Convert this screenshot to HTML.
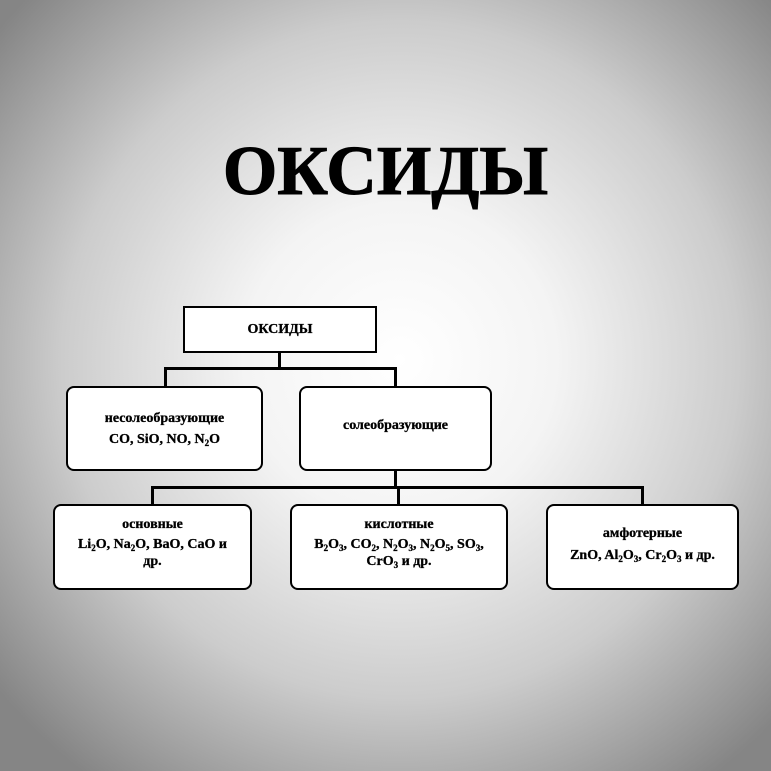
<!DOCTYPE html>
<html><head><meta charset="utf-8"><style>
body{margin:0}
#c{position:relative;width:771px;height:771px;overflow:hidden;font-family:"Liberation Serif",serif;font-weight:bold;color:#000;
background:radial-gradient(ellipse 520px 520px at 400px 360px,#ffffff 0%,#f4f4f4 30%,#cccccc 65%,#858585 100%);}
.b{position:absolute;border:2.5px solid #000;background:#fff;box-sizing:border-box;display:flex;flex-direction:column;justify-content:center;align-items:center;text-align:center;font-size:14px;line-height:17px;-webkit-text-stroke:0.3px #000}
.r{border-radius:8px}
.l{position:absolute;background:#000}
h1{position:absolute;left:0;width:771px;top:132px;margin:0;text-align:center;font-size:70px;line-height:80px;letter-spacing:0px;-webkit-text-stroke:1px #000}
sub{font-size:9px;vertical-align:-3px;line-height:0}
</style></head><body><div id="c">
<h1>ОКСИДЫ</h1>
<div class="b" style="left:183px;top:306px;width:194px;height:47px;font-size:14px">ОКСИДЫ</div>
<div class="l" style="left:278px;top:352px;width:2.5px;height:16px"></div>
<div class="l" style="left:164px;top:367px;width:233px;height:2.5px"></div>
<div class="l" style="left:164px;top:367px;width:2.5px;height:20px"></div>
<div class="l" style="left:394px;top:367px;width:2.5px;height:20px"></div>
<div class="b r" style="left:66px;top:386px;width:197px;height:85px"><div>несолеобразующие</div><div style="margin-top:4px">CO, SiO, NO, N<sub>2</sub>O</div></div>
<div class="b r" style="left:299px;top:386px;width:193px;height:85px;padding-bottom:6px">солеобразующие</div>
<div class="l" style="left:394px;top:470px;width:2.5px;height:18px"></div>
<div class="l" style="left:151px;top:486px;width:493px;height:2.5px"></div>
<div class="l" style="left:151px;top:486px;width:2.5px;height:19px"></div>
<div class="l" style="left:397px;top:486px;width:2.5px;height:19px"></div>
<div class="l" style="left:641px;top:486px;width:2.5px;height:19px"></div>
<div class="b r" style="left:53px;top:504px;width:199px;height:86px;padding-bottom:8px"><div>основные</div><div style="margin-top:3px">Li<sub>2</sub>O, Na<sub>2</sub>O, BaO, CaO и<br>др.</div></div>
<div class="b r" style="left:290px;top:504px;width:218px;height:86px;padding-bottom:8px"><div>кислотные</div><div style="margin-top:3px">B<sub>2</sub>O<sub>3</sub>, CO<sub>2</sub>, N<sub>2</sub>O<sub>3</sub>, N<sub>2</sub>O<sub>5</sub>, SO<sub>3</sub>,<br>CrO<sub>3</sub> и др.</div></div>
<div class="b r" style="left:546px;top:504px;width:193px;height:86px;padding-bottom:6px"><div>амфотерные</div><div style="margin-top:5px">ZnO, Al<sub>2</sub>O<sub>3</sub>, Cr<sub>2</sub>O<sub>3</sub> и др.</div></div>
</div></body></html>
